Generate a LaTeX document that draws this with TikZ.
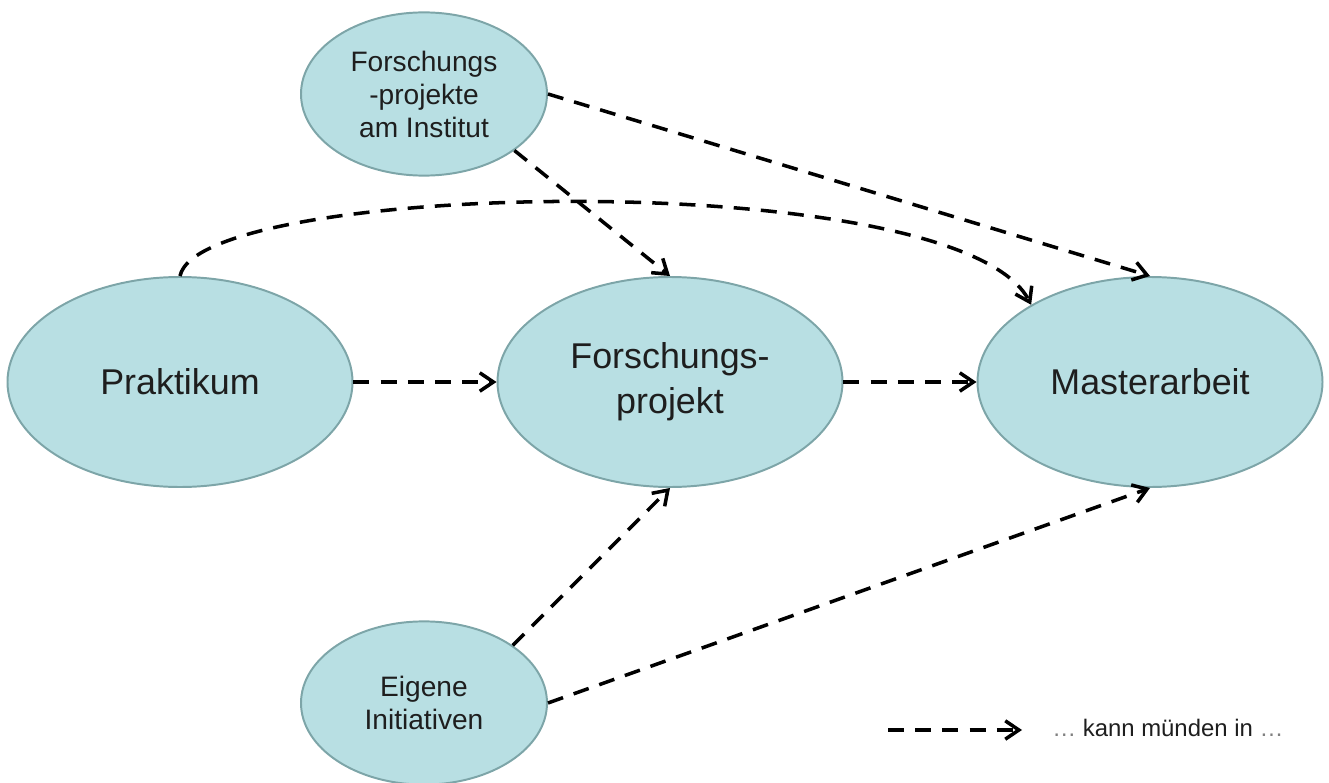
\documentclass[tikz,border=0pt]{standalone}
\usepackage{fontspec}
\setmainfont{Liberation Sans}
\usetikzlibrary{shapes.geometric,arrows.meta}

\definecolor{bubblefill}{RGB}{184,223,227}
\definecolor{bubbleline}{RGB}{125,165,168}
\definecolor{textdark}{RGB}{30,30,30}

\tikzset{
  bigbubble/.style={ellipse, draw=bubbleline, fill=bubblefill, line width=1.4pt,
    minimum width=8.625cm, minimum height=5.25cm, inner sep=0pt, align=center,
    text=textdark, font=\fontsize{25.5}{32}\selectfont},
  smallbubble/.style={ellipse, draw=bubbleline, fill=bubblefill, line width=1.4pt,
    minimum width=6.15cm, minimum height=4.08cm, inner sep=0pt, align=center,
    text=textdark, font=\fontsize{20}{23.5}\selectfont},
  leadsto/.style={line width=2.5pt, dash pattern=on 0.4cm off 0.28cm,
    -{Straight Barb[length=3.4mm,width=4.6mm]}}
}

\begin{document}
\begin{tikzpicture}

  % Bounding box of the scheme
  \useasboundingbox (0,0) rectangle (33.225,-19.575);

  %%%%%%%%%%%%%%%%%%%%%%%%%%%%%%%%% Bubbles %%%%%%%%%%%%%%%%%%%%%%%%%%%%%%%%%%%%
  \node[bigbubble] (prak) at (4.5,-9.55) {Praktikum};
  \node[bigbubble] (fproj) at (16.75,-9.55) {Forschungs-\\projekt};
  \node[bigbubble] (master) at (28.75,-9.55) {Masterarbeit};
  \node[smallbubble] (inst) at (10.6,-2.35) {Forschungs\\-projekte\\am Institut};
  \node[smallbubble] (eigen) at (10.6,-17.575) {Eigene\\Initiativen};

  %%%%%%%%%%%%%%%%%%%%%%%%%%%%%%%%% Arrows %%%%%%%%%%%%%%%%%%%%%%%%%%%%%%%%%%%%
  \draw[leadsto] (prak) -- (fproj);
  \draw[leadsto] (fproj) -- (master);
  \draw[leadsto] (inst.-32) -- (fproj.north);
  \draw[leadsto] (inst.east) -- (master.north);
  \draw[leadsto] (prak.north) .. controls (5,-4.5) and (24,-4.125) .. (master.147);
  \draw[leadsto] (eigen.33) -- (fproj.south);
  \draw[leadsto] (eigen.east) -- (master.south);

  %%%%%%%%%%%%%%%%%%%%%%%%%%%%%%%%% Legend %%%%%%%%%%%%%%%%%%%%%%%%%%%%%%%%%%%%
  \coordinate (legA) at (22.2,-18.25);
  \coordinate (legB) at (25.55,-18.25);
  \draw[leadsto] (legA) -- (legB);
  \node[anchor=west, text=textdark, font=\fontsize{17}{20}\selectfont, inner sep=0pt]
    (legtext) at (26.3,-18.2) {\textcolor{gray}{…} kann münden in \textcolor{gray}{…}};

\end{tikzpicture}
\end{document}
